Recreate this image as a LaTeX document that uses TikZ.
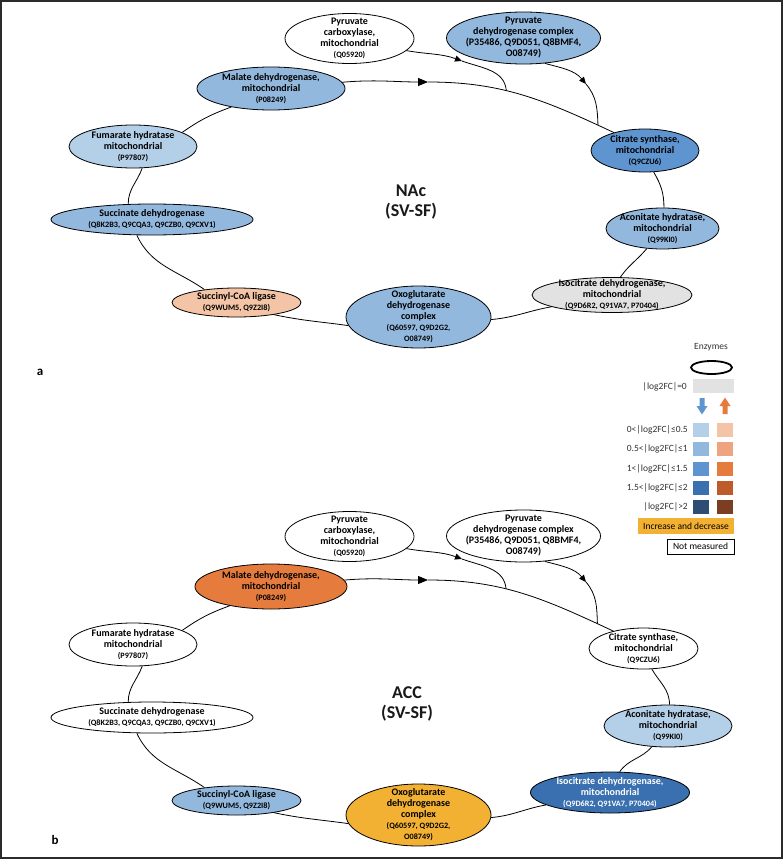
\documentclass[tikz,border=0pt]{standalone}
\usepackage{fontspec}
\setmainfont{Carlito}
\usetikzlibrary{shapes.geometric,arrows.meta}
\definecolor{bA}{HTML}{B4CFE8}
\definecolor{bB}{HTML}{93B8DE}
\definecolor{bC}{HTML}{5E95D0}
\definecolor{bD}{HTML}{3A70B0}
\definecolor{bE}{HTML}{2D4D75}
\definecolor{oA}{HTML}{F4C4A6}
\definecolor{oB}{HTML}{EFA480}
\definecolor{oC}{HTML}{E67B3E}
\definecolor{oD}{HTML}{BF5B2A}
\definecolor{oE}{HTML}{7B3E22}
\definecolor{gold}{HTML}{F3B134}
\definecolor{zero}{HTML}{E2E2E2}
\definecolor{frame}{HTML}{2B2B2B}
\tikzset{
  enz/.style={ellipse, draw=black, line width=0.8pt, inner sep=0pt},
  etxt/.style={align=center, inner sep=0pt, font=\bfseries\fontsize{10}{11}\selectfont},
  conn/.style={line width=0.8pt, draw=black},
  bigtip/.style={-{Triangle[length=10pt,width=8pt]}},
  smalltip/.style={-{Triangle[length=7pt,width=6pt]}},
  legtxt/.style={font=\fontsize{9.5}{11}\selectfont, text=black!80, inner sep=0pt},
  swatch/.style={minimum width=16pt, minimum height=14pt, inner sep=0pt},
  ttl/.style={align=center, font=\bfseries\fontsize{18}{20}\selectfont, inner sep=0pt, text=black!90},
  panlab/.style={font=\bfseries\fontsize{13}{15}\selectfont, inner sep=0pt}
}
\newcommand{\idf}[1]{{\fontsize{8.2}{9}\selectfont #1}}
\newcommand{\enzyme}[7]{%
  \node[enz, minimum width=#3pt, minimum height=#4pt, fill=#5] (#1) at (#2) {};
  \node[etxt, text=#6] at (#1.center) {#7};}
\newcommand{\links}[1]{%
  \coordinate (#1a1) at (428,-82);
  \coordinate (#1a2) at (462,-61);
  \coordinate (#1a3) at (586,-84);
  \draw[conn, bigtip] (#1mdh.5) to[out=5, in=180] (#1a1);
  \draw[conn] (#1a1) to[out=0, in=155] coordinate[pos=0.4] (#1j1) coordinate[pos=0.92] (#1j2) (#1cs.150);
  \draw[conn, smalltip] (#1pc.-12) to[out=-10, in=160] (#1a2);
  \draw[conn] (#1a2) to[out=-20, in=95] (#1j1);
  \draw[conn, smalltip] (#1pdh.-50) to[out=-15, in=130] (#1a3);
  \draw[conn] (#1a3) to[out=-50, in=92] (#1j2);
  \draw[conn] (#1cs.-68) to[out=-60, in=90] (#1aco.86);
  \draw[conn] (#1aco.-128) to[out=-130, in=55] (#1idh.65);
  \draw[conn] (#1idh.-169) to[out=-170, in=5] (#1ogdh.-2);
  \draw[conn] (#1ogdh.-173) to[out=172, in=-12] (#1scl.-18);
  \draw[conn] (#1scl.158) to[out=145, in=-65] (#1sdh.-134);
  \draw[conn] (#1sdh.147) to[out=90, in=-110] (#1fh.-67);
  \draw[conn] (#1fh.16) to[out=35, in=-160] (#1mdh.-155);
}
\begin{document}
\begin{tikzpicture}[x=1pt,y=1pt]
\useasboundingbox (0,0) rectangle (783,-859);
\fill[white] (0,0) rectangle (783,-859);
\draw[frame, line width=1.6pt] (0.8,-0.8) rectangle (782.2,-858.2);

% ---------- panel a ----------
\enzyme{tpc}{349.5,-38.5}{129}{50}{white}{black}{Pyruvate\\carboxylase,\\mitochondrial\\\idf{(Q05920)}}
\enzyme{tpdh}{523.5,-38}{154}{52}{bB}{black}{Pyruvate\\dehydrogenase complex\\(P35486, Q9D051, Q8BMF4,\\O08749)}
\enzyme{tmdh}{271,-88.5}{148}{43}{bB}{black}{Malate dehydrogenase,\\mitochondrial\\\idf{(P08249)}}
\enzyme{tfh}{133,-146.5}{128}{43}{bA}{black}{Fumarate hydratase\\mitochondrial\\\idf{(P97807)}}
\enzyme{tsdh}{152,-219.5}{202}{31}{bB}{black}{Succinate dehydrogenase\\\idf{(Q8K2B3, Q9CQA3, Q9CZB0, Q9CXV1)}}
\enzyme{tscl}{236.5,-302.5}{129}{29}{oA}{black}{Succinyl-CoA ligase\\\idf{(Q9WUM5, Q9Z2I8)}}
\enzyme{togdh}{418.5,-317}{145}{62}{bB}{black}{Oxoglutarate\\dehydrogenase\\complex\\\idf{(Q60597, Q9D2G2,}\\\idf{O08749)}}
\enzyme{tidh}{612,-295}{160}{35}{zero}{black}{Isocitrate dehydrogenase,\\mitochondrial\\\idf{(Q9D6R2, Q91VA7, P70404)}}
\enzyme{taco}{662.5,-228.5}{113}{41}{bB}{black}{Aconitate hydratase,\\mitochondrial\\\idf{(Q99KI0)}}
\enzyme{tcs}{645,-150.5}{108}{43}{bC}{black}{Citrate synthase,\\mitochondrial\\\idf{(Q9CZU6)}}
\links{t}
\node[ttl] (ttitle) at (411,-202) {NAc\\(SV-SF)};
\node[panlab] (labA) at (40,-372) {a};

% ---------- panel b ----------
\begin{scope}[yshift=-498pt]
\enzyme{bpc}{349.5,-38.5}{129}{50}{white}{black}{Pyruvate\\carboxylase,\\mitochondrial\\\idf{(Q05920)}}
\enzyme{bpdh}{523.5,-38}{154}{52}{white}{black}{Pyruvate\\dehydrogenase complex\\(P35486, Q9D051, Q8BMF4,\\O08749)}
\enzyme{bmdh}{271,-88.5}{152}{45}{oC}{black}{Malate dehydrogenase,\\mitochondrial\\\idf{(P08249)}}
\enzyme{bfh}{133,-146.5}{128}{43}{white}{black}{Fumarate hydratase\\mitochondrial\\\idf{(P97807)}}
\enzyme{bsdh}{152,-219.5}{202}{31}{white}{black}{Succinate dehydrogenase\\\idf{(Q8K2B3, Q9CQA3, Q9CZB0, Q9CXV1)}}
\enzyme{bscl}{236.5,-302.5}{129}{29}{bB}{black}{Succinyl-CoA ligase\\\idf{(Q9WUM5, Q9Z2I8)}}
\enzyme{bogdh}{418.5,-317}{145}{62}{gold}{black}{Oxoglutarate\\dehydrogenase\\complex\\\idf{(Q60597, Q9D2G2,}\\\idf{O08749)}}
\enzyme{bidh}{610,-294.5}{159}{41}{bD}{white}{Isocitrate dehydrogenase,\\mitochondrial\\\idf{(Q9D6R2, Q91VA7, P70404)}}
\enzyme{baco}{668,-228}{128}{42}{bA}{black}{Aconitate hydratase,\\mitochondrial\\\idf{(Q99KI0)}}
\enzyme{bcs}{643.5,-150.5}{109}{41}{white}{black}{Citrate synthase,\\mitochondrial\\\idf{(Q9CZU6)}}
\links{b}
\end{scope}
\node[ttl] (btitle) at (407,-704) {ACC\\(SV-SF)};
\node[panlab] (labB) at (55,-840) {b};

% ---------- legend ----------
\node[legtxt] (lenz) at (711,-347) {Enzymes};
\node[ellipse, draw=black, line width=1.8pt, minimum width=41pt, minimum height=13pt, inner sep=0pt] (lell) at (711.5,-367.5) {};
\node[legtxt, anchor=east] (l0) at (687,-387) {|log2FC|=0};
\node[fill=zero, minimum width=41pt, minimum height=14pt, inner sep=0pt] (s0) at (713.5,-386) {};
\fill[bC] (699.5,-398) -- (704.5,-398) -- (704.5,-406) -- (707.5,-406) -- (702,-414.5) -- (696.5,-406) -- (699.5,-406) -- cycle;
\fill[oC] (722.5,-414) -- (727.5,-414) -- (727.5,-406) -- (730.5,-406) -- (725,-397.5) -- (719.5,-406) -- (722.5,-406) -- cycle;
\foreach \yy/\lab/\cb/\co [count=\i] in {430/{0<|log2FC|≤0.5}/bA/oA, 449/{0.5<|log2FC|≤1}/bB/oB, 469/{1<|log2FC|≤1.5}/bC/oC, 488/{1.5<|log2FC|≤2}/bD/oD, 507/{|log2FC|>2}/bE/oE}{
  \node[legtxt, anchor=east] (lt\i) at (688,-\yy) {\lab};
  \node[swatch, fill=\cb] (sb\i) at (701,-\yy) {};
  \node[swatch, fill=\co] (so\i) at (725,-\yy) {};
}
\node[fill=gold, minimum width=96pt, minimum height=16pt, inner sep=0pt, font=\fontsize{9.5}{11}\selectfont] (linc) at (686,-526) {Increase and decrease};
\node[draw=black, line width=0.8pt, fill=white, minimum width=67pt, minimum height=15pt, inner sep=0pt, font=\fontsize{9.5}{11}\selectfont] (lnm) at (700.5,-546.5) {Not measured};
\end{tikzpicture}
\end{document}
